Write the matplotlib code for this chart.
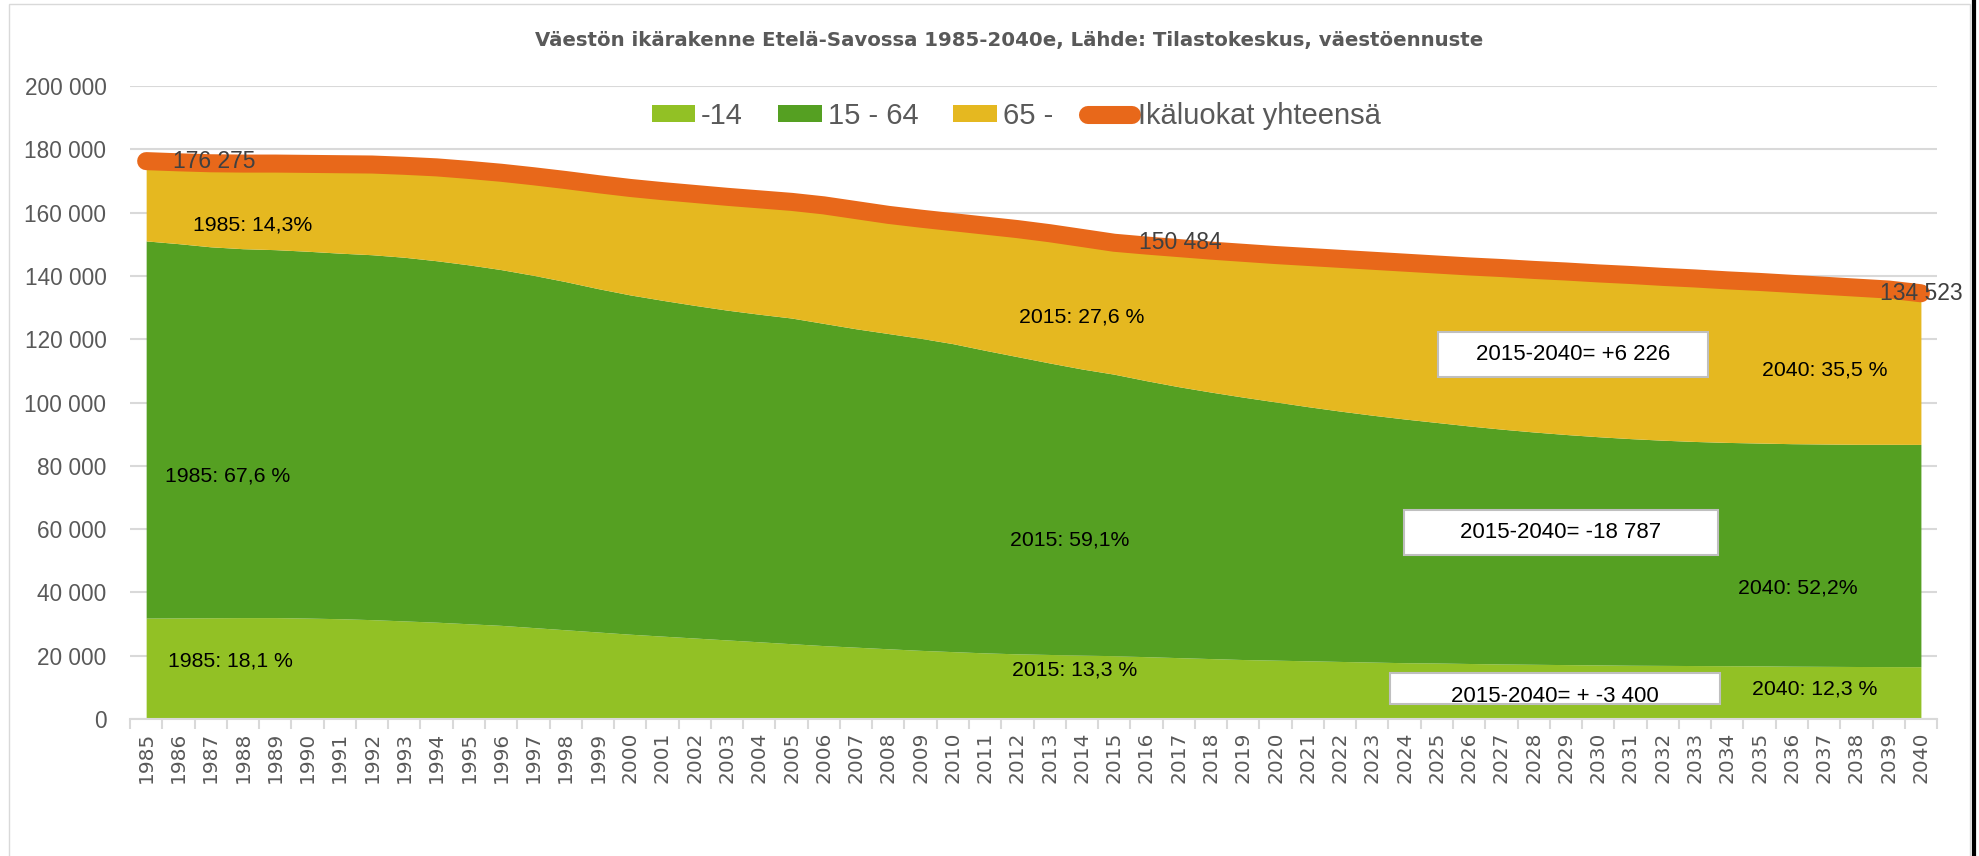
import numpy as np
import pandas as pd
import matplotlib.pyplot as plt
from matplotlib.patches import Rectangle
from matplotlib.lines import Line2D

plt.rcParams['font.family'] = ['Liberation Sans', 'DejaVu Sans']

years = list(range(1985, 2041))
age_0_14 = [31906, 31950, 32000, 32050, 32050, 31900, 31700, 31400, 31000, 30600,
            30100, 29600, 28900, 28200, 27500, 26800, 26200, 25600, 25000, 24400,
            23800, 23200, 22700, 22200, 21700, 21300, 20900, 20600, 20400, 20200,
            20014, 19700, 19400, 19100, 18800, 18600, 18400, 18200, 18000, 17800,
            17700, 17550, 17400, 17300, 17200, 17100, 17000, 16950, 16900, 16850,
            16800, 16700, 16650, 16600, 16570, 16546]
age_15_64 = [119162, 118250, 117200, 116550, 116250, 115900, 115500, 115300, 114900, 114200,
             113400, 112400, 111300, 110000, 108500, 107200, 106100, 105100, 104200, 103500,
             102900, 101800, 100600, 99600, 98600, 97300, 95600, 93900, 92100, 90400,
             88936, 87200, 85600, 84200, 82900, 81600, 80300, 79100, 78000, 77000,
             76000, 75050, 74200, 73400, 72700, 72100, 71600, 71150, 70800, 70550,
             70400, 70300, 70250, 70200, 70230, 70221]
age_65 = [25207, 25700, 26400, 26900, 27200, 27600, 28100, 28500, 28900, 29500,
          30000, 30600, 31300, 32100, 33000, 33800, 34500, 35200, 35800, 36300,
          36700, 37300, 37500, 37500, 37800, 38400, 39400, 40300, 41000, 41400,
          41534, 42700, 43800, 44700, 45600, 46400, 47300, 48100, 48800, 49400,
          49900, 50400, 50900, 51200, 51500, 51600, 51700, 51600, 51500, 51200,
          50900, 50500, 50000, 49500, 48900, 47756]
total = [176275, 175900, 175600, 175500, 175500, 175400, 175300, 175200, 174800, 174300,
         173500, 172600, 171500, 170300, 169000, 167800, 166800, 165900, 165000, 164200,
         163400, 162300, 160800, 159300, 158100, 157000, 155900, 154800, 153500, 152000,
         150484, 149600, 148800, 148000, 147300, 146600, 146000, 145400, 144800, 144200,
         143600, 143000, 142500, 141900, 141400, 140800, 140300, 139700, 139200, 138600,
         138100, 137500, 136900, 136300, 135700, 134523]

yticks = [0, 20000, 40000, 60000, 80000, 100000, 120000, 140000, 160000, 180000, 200000]
ylabels = ['0', '20 000', '40 000', '60 000', '80 000', '100 000', '120 000',
           '140 000', '160 000', '180 000', '200 000']

df = pd.DataFrame({'-14': age_0_14, '15 - 64': age_15_64, '65 -': age_65}, index=years)

ax = df.plot.area(color=['#92C125', '#55A022', '#E5B820'], linewidth=0, alpha=1,
                  figsize=(19.79, 8.56), legend=False)
fig = plt.gcf()
plt.subplots_adjust(left=0.0657, right=0.9788, bottom=0.160, top=0.8995)
plt.plot(years, total, color='#E8681A', lw=13, solid_capstyle='round', label='Ikäluokat yhteensä')

plt.xlim(1984.5, 2040.5)
plt.ylim(0, 200000)
plt.xticks(years, [str(y) for y in years], rotation=90, family='DejaVu Sans', fontsize=14.5, color='#595959')
plt.yticks(yticks, ylabels, fontsize=16.3, color='#595959')
ax.set_xticks(np.arange(1984.5, 2041, 1), minor=True)
ax.tick_params(axis='x', which='major', length=0, pad=9)
ax.tick_params(axis='x', which='minor', length=7, width=1.5, color='#D9D9D9')
ax.tick_params(axis='y', length=0, pad=17)
ax.yaxis.grid(True, color='#D9D9D9', lw=1.5)
ax.set_axisbelow(True)
for s in ['top', 'right', 'left']:
    ax.spines[s].set_visible(False)
ax.spines['bottom'].set_color('#D9D9D9')
ax.spines['bottom'].set_linewidth(1.5)
plt.xlabel('')

plt.legend(ncol=4, loc='center', bbox_to_anchor=(0.5134, 0.8645), bbox_transform=fig.transFigure,
           frameon=False, fontsize=21, labelcolor='#595959', handlelength=1.5, handleheight=0.5,
           handletextpad=0.2, columnspacing=1.2)

fig.suptitle('Väestön ikärakenne Etelä-Savossa 1985-2040e, Lähde: Tilastokeskus, väestöennuste',
             x=0.51, y=0.953, va='center', family='DejaVu Sans', fontweight='bold', fontsize=14.2, color='#595959')

# arvot viivan päällä
for i, dx, ha in [(0, 19, 'left'), (30, 18, 'left'), (55, 0, 'center')]:
    plt.annotate('{:,}'.format(total[i]).replace(',', ' '), (years[i], total[i]), xytext=(dx, 0),
                 textcoords='offset points', ha=ha, va='center', fontsize=16.5, color='#404040')

# osuudet
notes = [(1986.46, 156100, '1985: 14,3%'), (1985.59, 76800, '1985: 67,6 %'), (1985.68, 18300, '1985: 18,1 %'),
         (2012.06, 127000, '2015: 27,6 %'), (2011.78, 56600, '2015: 59,1%'), (2011.84, 15500, '2015: 13,3 %'),
         (2035.06, 110300, '2040: 35,5 %'), (2034.32, 41400, '2040: 52,2%'), (2034.75, 9500, '2040: 12,3 %')]
for x, y, t in notes:
    plt.text(x, y, t, ha='left', va='center', fontsize=15.3, color='black')

# muutokset 2015-2040
boxes = [(2025.03, 108070, 8.36, 14220, 115200, '2015-2040= +6 226'),
         (2023.98, 51820, 9.72, 14220, 58930, '2015-2040= -18 787'),
         (2023.54, 4740, 10.22, 9800, 7000, '2015-2040= + -3 400')]
for x0, y0, w, h, ty, t in boxes:
    ax.add_patch(Rectangle((x0, y0), w, h, facecolor='white', edgecolor='#BFBFBF', lw=1.5, zorder=4))
    plt.text(x0 + w / 2, ty, t, ha='center', va='center', fontsize=16, color='black', zorder=5)

fig.add_artist(Rectangle((0.0045, -0.1), 0.991, 1.0953, transform=fig.transFigure,
                         fill=False, edgecolor='#D9D9D9', lw=1))
fig.add_artist(Line2D([0.99747, 0.99747], [0, 1], transform=fig.transFigure, color='black', lw=3))

plt.savefig('out.png', dpi=100)
